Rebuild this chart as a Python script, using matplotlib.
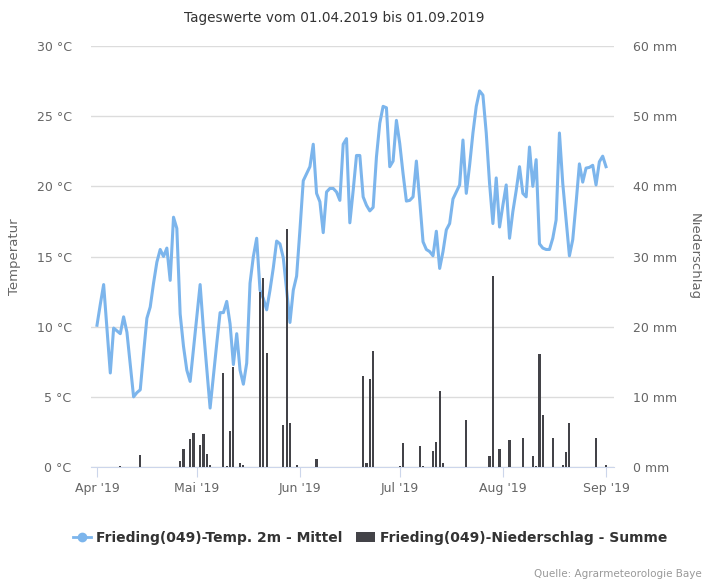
import numpy as np
import pandas as pd
import matplotlib
matplotlib.use("Agg")
import matplotlib.pyplot as plt
from matplotlib.lines import Line2D
from matplotlib.patches import Patch

# daily values 01.04.2019 - 01.09.2019
dates = pd.date_range("2019-04-01", "2019-09-01", freq="D")

temp = [
    10.1, 11.6, 13.0, 9.8, 6.7, 9.9, 9.7, 9.5, 10.7, 9.6,
    7.3, 5.0, 5.3, 5.5, 8.1, 10.6, 11.4, 13.1, 14.6, 15.5,
    15.0, 15.6, 13.3, 17.8, 17.0, 10.9, 8.6, 6.9, 6.1, 8.4,
    10.7, 13.0, 9.8, 7.0, 4.2, 6.5, 8.8, 11.0, 11.0, 11.8,
    10.2, 7.3, 9.5, 6.9, 5.9, 7.4, 13.1, 15.0, 16.3, 12.6,
    12.0, 11.2, 12.6, 14.2, 16.1, 15.9, 14.9, 12.6, 10.3, 12.6,
    13.6, 16.9, 20.4, 20.9, 21.4, 23.0, 19.5, 18.9, 16.7, 19.6,
    19.85, 19.85, 19.6, 19.0, 23.0, 23.4, 17.4, 19.7, 22.2, 22.2,
    19.25, 18.65, 18.25, 18.5, 22.1, 24.5, 25.7, 25.6, 21.4, 21.8,
    24.7, 23.05, 20.9, 18.95, 19.0, 19.25, 21.8, 19.0, 16.05, 15.5,
    15.35, 15.05, 16.8, 14.15, 15.35, 16.9, 17.35, 19.1, 19.6, 20.1,
    23.3, 19.5, 21.5, 23.8, 25.7, 26.8, 26.5, 23.8, 20.2, 17.35,
    20.6, 17.1, 18.65, 20.1, 16.3, 18.2, 19.7, 21.4, 19.5, 19.25,
    22.8, 20.0, 21.9, 15.9, 15.6, 15.5, 15.5, 16.3, 17.6, 23.8,
    20.2, 17.6, 15.05, 16.2, 18.8, 21.6, 20.3, 21.3, 21.35, 21.5,
    20.1, 21.75, 22.15, 21.4,
]

# days with precipitation (day index from 01.04.) and amount in mm
rain_day = [7, 13, 25, 26, 28, 29, 31, 32, 33, 34, 38, 39, 40, 41, 43, 44,
            49, 50, 51, 56, 57, 58, 60, 66, 80, 81, 82, 83, 91, 92, 97, 98,
            101, 102, 103, 104, 111, 118, 119, 121, 124, 128, 131, 132, 133,
            134, 137, 140, 141, 142, 150, 153]
rain_mm = [0.1, 1.7, 0.9, 2.6, 4.0, 4.8, 3.2, 4.65, 1.85, 0.3, 13.35, 0.2,
           5.2, 14.2, 0.6, 0.3, 25.0, 26.9, 16.3, 6.0, 33.9, 6.2, 0.3, 1.1,
           13.0, 0.6, 12.5, 16.5, 0.2, 3.4, 3.0, 0.2, 2.3, 3.5, 10.9, 0.6,
           6.7, 1.5, 27.2, 2.5, 3.9, 4.1, 1.5, 0.2, 16.1, 7.4, 4.1, 0.3, 2.2,
           6.3, 4.2, 0.3]

month_ticks = pd.to_datetime(["2019-04-01", "2019-05-01", "2019-06-01",
                              "2019-07-01", "2019-08-01", "2019-09-01"])
month_labels = ["Apr '19", "Mai '19", "Jun '19", "Jul '19", "Aug '19", "Sep '19"]

temp_ticks = [0, 5, 10, 15, 20, 25, 30]
rain_ticks = [0, 10, 20, 30, 40, 50, 60]

line_color = "#7cb5ec"
bar_color = "#434348"
grid_color = "#dcdcdc"
label_color = "#666666"

W, H = 702, 584
fig = plt.figure(figsize=(W / 100, H / 100), dpi=100)
fig.patch.set_facecolor("white")
ax = fig.add_axes([91 / W, 1 - 467 / H, (614 - 91) / W, (467 - 46) / H])
ax2 = ax.twinx()

rain_dates = dates[rain_day]
ax.plot(dates, temp, color=line_color, lw=2.2, zorder=3)
ax2.bar(rain_dates, rain_mm, width=0.65, color=bar_color, zorder=3)

x0 = dates[0] - pd.Timedelta(days=1.8)
x1 = dates[-1] + pd.Timedelta(days=2.4)
ax.set_xlim(x0, x1)
ax.set_ylim(0, 30)
ax2.set_ylim(0, 60)

ax.set_yticks(temp_ticks)
ax.set_yticklabels([f"{t} °C" for t in temp_ticks])
ax2.set_yticks(rain_ticks)
ax2.set_yticklabels([f"{r} mm" for r in rain_ticks])
ax.set_xticks(month_ticks)
ax.set_xticklabels(month_labels)

ax.grid(axis="y", color=grid_color, lw=1)
ax.set_axisbelow(True)
for a in (ax, ax2):
    for s in a.spines.values():
        s.set_visible(False)
ax.spines["bottom"].set_visible(True)
ax.spines["bottom"].set_color("#ccd6eb")

ax.tick_params(axis="y", length=0, labelsize=9, labelcolor=label_color, pad=14)
ax2.tick_params(axis="y", length=0, labelsize=9, labelcolor=label_color, pad=14)
ax.tick_params(axis="x", length=7, color="#ccd6eb", labelsize=9,
               labelcolor=label_color, pad=4)

ax.set_ylabel("Temperatur", color=label_color, fontsize=9.5)
ax.yaxis.set_label_coords((21 - 91) / 523, 0.5)
ax2.set_ylabel("Niederschlag", color=label_color, fontsize=9.5, rotation=270,
               va="center")
ax2.yaxis.set_label_coords((694 - 91) / 523, 0.5)

fig.text(334 / W, 1 - 18 / H, "Tageswerte vom 01.04.2019 bis 01.09.2019",
         ha="center", va="center", fontsize=9.8, color="#333333")

handles = [
    Line2D([], [], color=line_color, lw=2, marker="o", markersize=6),
    Patch(facecolor=bar_color),
]
fig.legend(handles, ["Frieding(049)-Temp. 2m - Mittel",
                     "Frieding(049)-Niederschlag - Summe"],
           loc="center", bbox_to_anchor=(370 / W, 1 - 538 / H), ncol=2,
           frameon=False, handlelength=1.3, handletextpad=0.4,
           columnspacing=1.0, prop={"weight": "bold", "size": 10},
           labelcolor="#333333")

fig.text(1.0, 1 - 574 / H, "Quelle: Agrarmeteorologie Baye", ha="right",
         va="center", fontsize=7.5, color="#999999")

fig.savefig("out.png", dpi=100)
